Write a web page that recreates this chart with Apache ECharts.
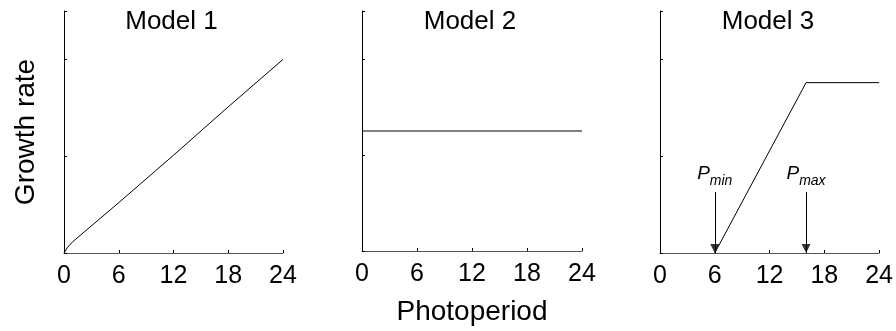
<!DOCTYPE html>
<html><head><meta charset="utf-8">
<script src="https://cdn.jsdelivr.net/npm/echarts@6/dist/echarts.min.js"></script>
<style>html,body{margin:0;padding:0;background:#fff}#c{width:896px;height:331px}</style>
</head><body><div id="c"></div>
<script>
var titles = ['Model 1', 'Model 2', 'Model 3'];
var xTicks = [0, 6, 12, 18, 24];
var yTicks = [0, 1, 2];
var yMax = 2.5;
var model1 = [[0,0],[0.4,0.06],[1,0.12],[6,0.52],[12,1.01],[18,1.51],[24,2.0]];
var model2 = [[0,1.25],[24,1.25]];
var model3 = [[6,0],[16,1.76],[24,1.76]];
var markerX = [6, 16];
var markerNames = ['min', 'max'];
var markerTop = 0.63;
var xLabel = 'Photoperiod';
var yLabel = 'Growth rate';

var FONT = 'Liberation Sans';
var grids = [
  {left: 64, top: 11, width: 219, height: 242},
  {left: 362, top: 11, width: 220, height: 242},
  {left: 660, top: 11, width: 220, height: 242}
];
var chart = echarts.init(document.getElementById('c'), null, {renderer: 'canvas'});
var xAxes = [], yAxes = [], series = [], graphics = [];
grids.forEach(function (g, i) {
  xAxes.push({
    gridIndex: i, type: 'value', min: xTicks[0], max: xTicks[xTicks.length-1], interval: xTicks[1]-xTicks[0],
    axisLine: {onZero: false, lineStyle: {color: '#555', width: 1}},
    axisTick: {inside: true, length: 3, lineStyle: {color: '#000'}},
    splitLine: {show: false},
    axisLabel: {fontFamily: FONT, fontSize: 25, color: '#000', margin: 11},
    name: i === 1 ? xLabel : '', nameLocation: 'middle', nameGap: 47,
    nameTextStyle: {fontFamily: FONT, fontSize: 28, color: '#000'}
  });
  yAxes.push({
    gridIndex: i, type: 'value', min: yTicks[0], max: yMax, interval: yTicks[1]-yTicks[0],
    axisLine: {show: true, lineStyle: {color: '#000', width: 1}},
    axisTick: {show: true, inside: true, length: 3, lineStyle: {color: '#000'}},
    splitLine: {show: false},
    axisLabel: {show: false},
    name: i === 0 ? yLabel : '', nameLocation: 'middle', nameGap: 24,
    nameTextStyle: {fontFamily: FONT, fontSize: 28, color: '#000'}
  });
  graphics.push({
    type: 'text', x: g.left + g.width/2 - 2, y: 22,
    style: {text: titles[i], font: '26px "' + FONT + '"', fill: '#000', align: 'center', verticalAlign: 'middle'}
  });
});
var lineStyle = {color: '#000', width: 1};
[model1, model2, model3].forEach(function (d, i) {
  series.push({type: 'line', xAxisIndex: i, yAxisIndex: i, data: d, showSymbol: false, symbol: 'none',
    lineStyle: lineStyle, silent: true, animation: false});
});
series[2].markLine = {
  silent: true, animation: false,
  symbol: ['none', 'none'],
  lineStyle: {color: '#000', width: 1, type: 'solid'},
  label: {
    show: true, position: 'start', distance: -2,
    formatter: function (p) { return '{a|P}{b|' + p.name + '}'; },
    rich: {
      a: {fontFamily: FONT, fontSize: 19, fontStyle: 'italic', color: '#000', lineHeight: 19, verticalAlign: 'top'},
      b: {fontFamily: FONT, fontSize: 14, fontStyle: 'italic', color: '#000', lineHeight: 30, verticalAlign: 'top', padding: [10, 0, 0, 0]}
    }
  },
  data: markerX.map(function (x, k) {
    return [{coord: [x, markerTop], name: markerNames[k]}, {coord: [x, 0], name: markerNames[k]}];
  })
};
// arrow heads at the bottom of the marker lines
series.push({
  type: 'scatter', xAxisIndex: 2, yAxisIndex: 2, silent: true, animation: false,
  symbol: 'triangle', symbolRotate: 180, symbolSize: [9, 9], symbolOffset: [0, -4.5],
  itemStyle: {color: '#000'},
  data: markerX.map(function (x) { return [x, 0]; }),
  z: 5
});
chart.setOption({
  animation: false,
  grid: grids,
  xAxis: xAxes,
  yAxis: yAxes,
  series: series,
  graphic: graphics
});
</script></body></html>
